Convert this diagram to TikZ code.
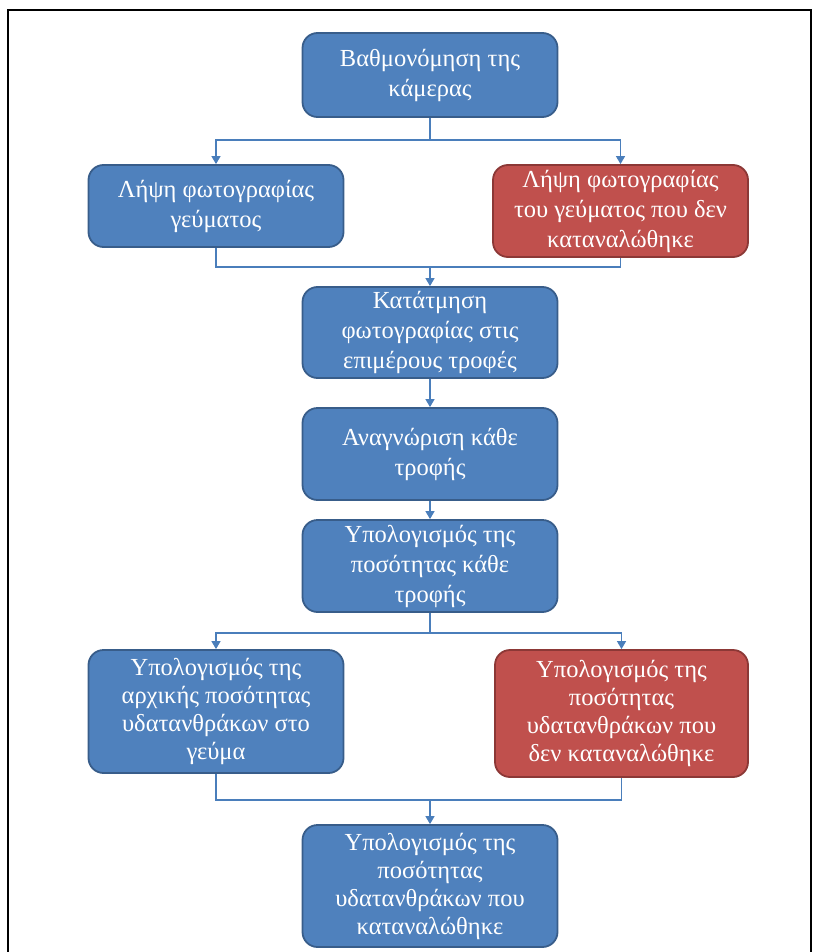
\documentclass[tikz,border=0pt]{standalone}
\usepackage{fontspec}
\setmainfont{Liberation Serif}
\usetikzlibrary{arrows.meta}
\definecolor{boxblue}{RGB}{79,129,189}
\definecolor{edgeblue}{RGB}{56,93,138}
\definecolor{boxred}{RGB}{192,80,77}
\definecolor{edgered}{RGB}{140,56,54}
\definecolor{linkblue}{RGB}{74,126,187}
\begin{document}
\begin{tikzpicture}[x=1pt,y=-1pt,
  stage/.style={draw=edgeblue,fill=boxblue,line width=1.8pt,rounded corners=15pt,
    text=white,align=center,inner sep=0pt,minimum width=255pt,
    font=\fontsize{24.5}{30}\selectfont},
  tall/.style={font=\fontsize{24.5}{28}\selectfont},
  alert/.style={stage,draw=edgered,fill=boxred},
  link/.style={draw=linkblue,line width=1.3pt},
  arrow/.style={link,-{Triangle[length=8pt,width=9pt]}}]
\useasboundingbox (0,0) rectangle (816,952);
% outer frame, open at the bottom
\draw[line width=1.8pt] (8,952) -- (8,10) -- (811,10) -- (811,952);

\node[stage,minimum height=84pt] (b1) at (430,75) {Βαθμονόμηση της\\κάμερας};
\node[stage,minimum height=82pt] (b2) at (216,206) {Λήψη φωτογραφίας\\γεύματος};
\node[alert,minimum height=92pt] (b3) at (620.5,211) {Λήψη φωτογραφίας\\του γεύματος που δεν\\καταναλώθηκε};
\node[stage,minimum height=91pt] (b4) at (430,332.5) {Κατάτμηση\\φωτογραφίας στις\\επιμέρους τροφές};
\node[stage,minimum height=92pt] (b5) at (430,454) {Αναγνώριση κάθε\\τροφής};
\node[stage,minimum height=92pt] (b6) at (430,566) {Υπολογισμός της\\ποσότητας κάθε\\τροφής};
\node[stage,tall,minimum height=123pt] (b7) at (216,711.5) {Υπολογισμός της\\αρχικής ποσότητας\\υδατανθράκων στο\\γεύμα};
\node[alert,tall,minimum height=127pt,minimum width=253pt] (b8) at (621.5,713.5) {Υπολογισμός της\\ποσότητας\\υδατανθράκων που\\δεν καταναλώθηκε};
\node[stage,tall,minimum height=122pt] (b9) at (430,886) {Υπολογισμός της\\ποσότητας\\υδατανθράκων που\\καταναλώθηκε};

% branch and merge points
\coordinate (s1) at (430,140);
\coordinate (m1) at (430,267);
\coordinate (s2) at (430,633);
\coordinate (m2) at (430,800);

\draw[link] (b1.south) -- (s1);
\draw[arrow] (s1) -| (b2.north);
\draw[arrow] (s1) -| (b3.north);

\draw[link] (b2.south) |- (m1);
\draw[link] (b3.south) |- (m1);
\draw[arrow] (m1) -- (b4.north);

\draw[arrow] (b4) -- (b5);
\draw[arrow] (b5) -- (b6);

\draw[link] (b6.south) -- (s2);
\draw[arrow] (s2) -| (b7.north);
\draw[arrow] (s2) -| (b8.north);

\draw[link] (b7.south) |- (m2);
\draw[link] (b8.south) |- (m2);
\draw[arrow] (m2) -- (b9.north);
\end{tikzpicture}
\end{document}
